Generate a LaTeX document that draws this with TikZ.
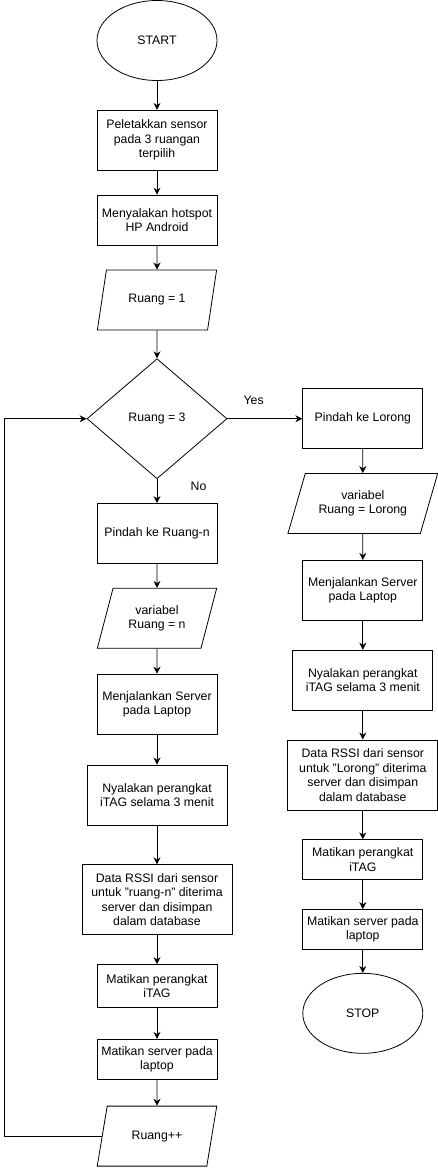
\documentclass[tikz,border=0pt]{standalone}
\usepackage{fontspec}
\setmainfont{Liberation Sans}
\usetikzlibrary{positioning,shapes.geometric,arrows.meta}

\begin{document}
\begin{tikzpicture}[x=1pt,y=1pt,node distance=24pt,
        thick,>={Stealth[length=7pt,width=7pt]},font=\fontsize{12.3}{14.5}\selectfont,
        box node/.style={rectangle,draw,minimum width=120pt,minimum height=60pt,align=center,inner sep=2pt},
        io node/.style={trapezium,trapezium left angle=70,trapezium right angle=110,trapezium stretches=true,draw,minimum width=120pt,minimum height=60pt,align=center,inner sep=2pt},
        cond node/.style={diamond,draw,minimum width=140pt,minimum height=120pt,inner sep=0pt},
        end node/.style={ellipse,draw,minimum width=120pt,minimum height=80pt}]

    \useasboundingbox (0,0) rectangle (438,-1171);

    % left column
    \node[end node] (start) at (157,-40.5) {START};
    \node[box node] (put) [below=29pt of start] {Peletakkan sensor\\pada 3 ruangan\\terpilih};
    \node[box node,minimum height=50pt] (hotspot) [below=24pt of put] {Menyalakan hotspot\\HP Android};
    \node[io node] (r1) [below=24pt of hotspot] {Ruang = 1};
    \node[cond node] (cek) [below=28pt of r1] {Ruang = 3};
    \node[box node] (pindahn) [below=24pt of cek] {Pindah ke Ruang-n};
    \node[io node] (varn) [below=24pt of pindahn] {variabel\\Ruang = n};
    \node[box node] (servern) [below=25pt of varn] {Menjalankan Server\\pada Laptop};
    \node[box node,minimum width=140pt] (itagn) [below=30pt of servern] {Nyalakan perangkat\\iTAG selama 3 menit};
    \node[box node,minimum width=150pt,minimum height=70pt] (datan) [below=39pt of itagn] {Data RSSI dari sensor\\untuk "ruang-n" diterima\\server dan disimpan\\dalam database};
    \node[box node,minimum height=43pt] (offn) [below=29pt of datan] {Matikan perangkat\\iTAG};
    \node[box node,minimum height=40pt] (stopn) [below=31pt of offn] {Matikan server pada\\laptop};
    \node[io node] (inc) [below=26pt of stopn] {Ruang++};

    % right column
    \node[box node] (lorong) [right=75pt of cek] {Pindah ke Lorong};
    \node[io node,minimum width=150pt,trapezium left angle=65,trapezium right angle=115] (varl) [below=24pt of lorong] {variabel\\Ruang = Lorong};
    \node[box node] (serverl) [below=26pt of varl] {Menjalankan Server\\pada Laptop};
    \node[box node,minimum width=140pt] (itagl) [below=29pt of serverl] {Nyalakan perangkat\\iTAG selama 3 menit};
    \node[box node,minimum width=150pt,minimum height=70pt] (datal) [below=29pt of itagl] {Data RSSI dari sensor\\untuk "Lorong" diterima\\server dan disimpan\\dalam database};
    \node[box node,minimum height=40pt] (offl) [below=29pt of datal] {Matikan perangkat\\iTAG};
    \node[box node,minimum height=40pt] (stopl) [below=29pt of offl] {Matikan server pada\\laptop};
    \node[end node] (stop) [below=23pt of stopl] {STOP};

    \path[->]
    (start) edge (put)
    (put) edge (hotspot)
    (hotspot) edge (r1)
    (r1) edge (cek)
    (cek) edge node[pos=0.35,above,yshift=10pt] {Yes} (lorong)
    (cek) edge node[pos=0.3,right=30pt] {No} (pindahn)
    (pindahn) edge (varn)
    (varn) edge (servern)
    (servern) edge (itagn)
    (itagn) edge (datan)
    (datan) edge (offn)
    (offn) edge (stopn)
    (stopn) edge (inc);
    \path[->]
    (lorong) edge (varl)
    (varl) edge (serverl)
    (serverl) edge (itagl)
    (itagl) edge (datal)
    (datal) edge (offl)
    (offl) edge (stopl)
    (stopl) edge (stop);
    \draw[->] (inc.west) -- ++(-97,0) |- (cek.west);

\end{tikzpicture}
\end{document}
